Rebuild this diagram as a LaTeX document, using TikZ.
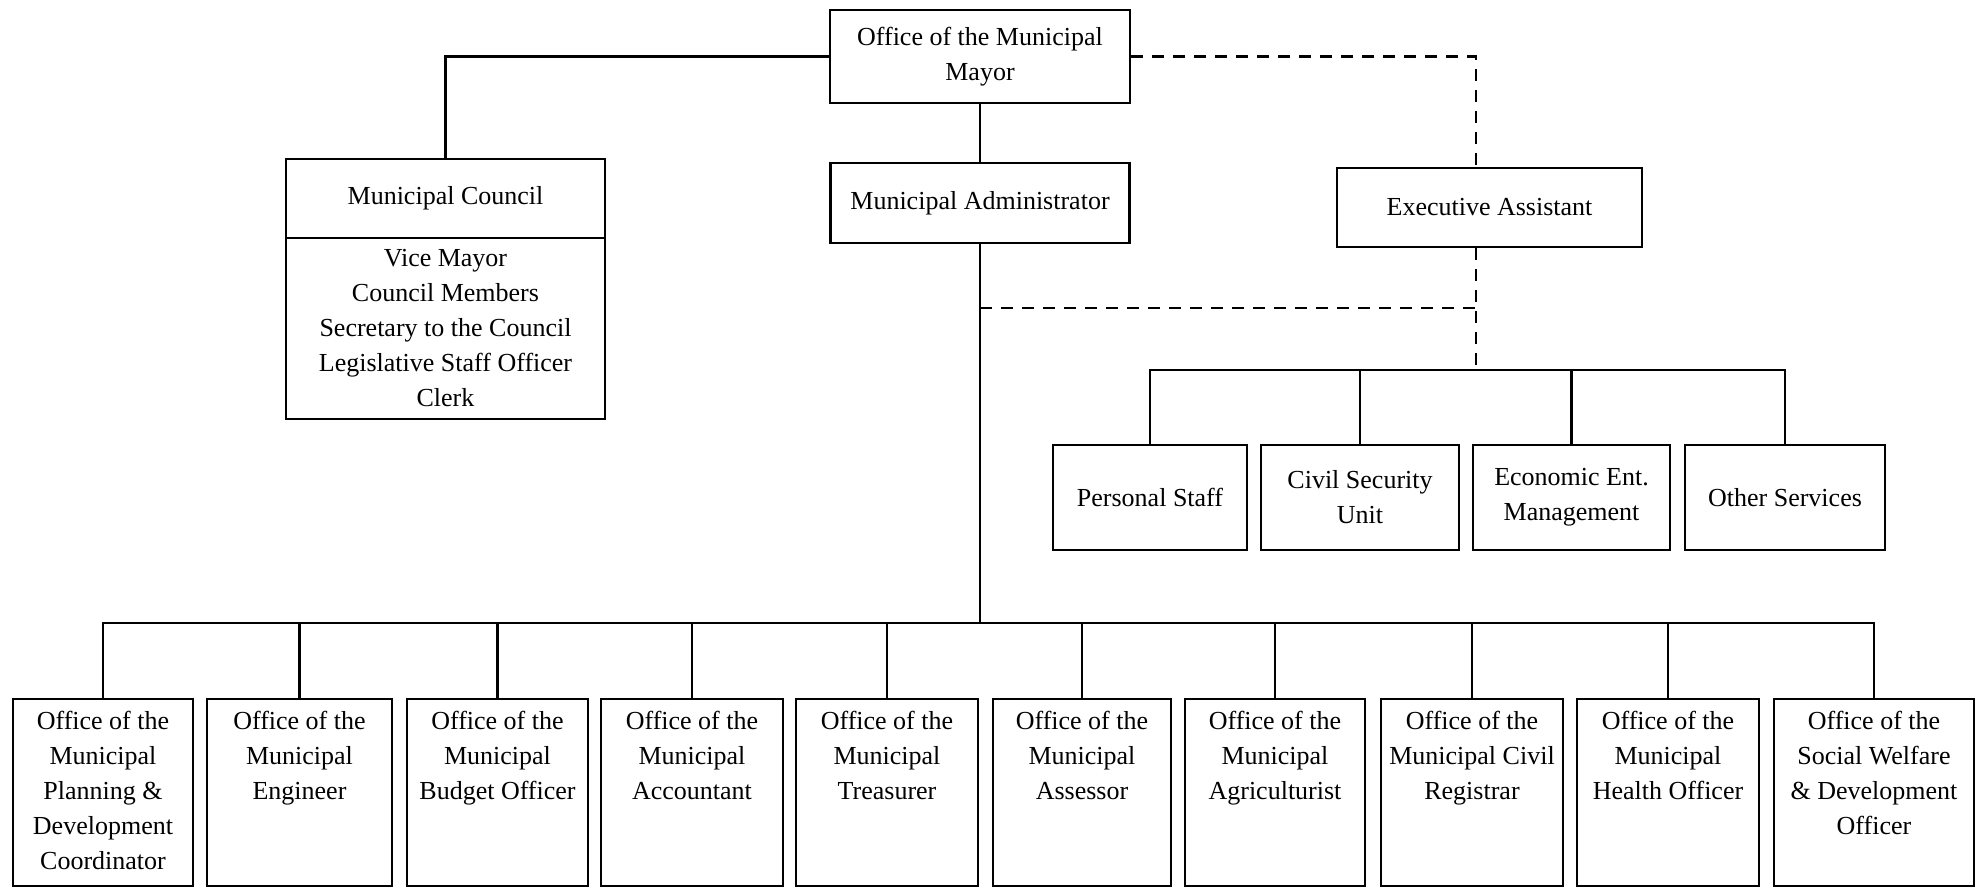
\documentclass[tikz,border=0pt]{standalone}
\usepackage{fontspec}
\setmainfont{Liberation Serif}
\begin{document}
\begin{tikzpicture}[x=1pt, y=-1pt,
  box/.style={draw, line width=2.6pt, inner sep=0pt, align=center,
    font=\fontsize{26}{35}\selectfont},
  office/.style={box, minimum width=#1, minimum height=187pt},
  lbl/.style={inner sep=0pt, align=center, font=\fontsize{26}{35}\selectfont},
  link/.style={line width=2.4pt},
  dlink/.style={line width=2.4pt, dash pattern=on 12pt off 9pt}]
\useasboundingbox (0,0) rectangle (1987,894);

% top of the chart
\node[box, minimum width=300pt, minimum height=93pt] (mayor) at (980,56.5)
  {Office of the Municipal\\Mayor};
\node[box, minimum width=299pt, minimum height=80pt] (admin) at (980,203)
  {Municipal Administrator};
\node[box, minimum width=319pt, minimum height=79pt] (ctop) at (445.5,198.5)
  {Municipal Council};
\node[box, minimum width=319pt, minimum height=181pt] (cbody) at (445.5,328.5)
  {Vice Mayor\\Council Members\\Secretary to the Council\\Legislative Staff Officer\\Clerk};
\node[box, minimum width=305pt, minimum height=79pt] (ea) at (1489.5,207.5)
  {Executive Assistant};

% units under the executive assistant
\node[box, minimum width=194pt, minimum height=105pt] (ps) at (1150,497.5) {Personal Staff};
\node[box, minimum width=198pt, minimum height=105pt] (cs) at (1360,497.5) {Civil Security\\Unit};
\node[box, minimum width=197pt, minimum height=105pt] (ee) at (1571.5,497.5) {Economic Ent.\\Management};
\node[box, minimum width=200pt, minimum height=105pt] (os) at (1785,497.5) {Other Services};

% municipal offices
\node[office=180pt] (b1) at (103,792.5) {};
\node[office=185pt] (b2) at (299.5,792.5) {};
\node[office=181pt] (b3) at (497.5,792.5) {};
\node[office=182pt] (b4) at (692,792.5) {};
\node[office=182pt] (b5) at (887,792.5) {};
\node[office=178pt] (b6) at (1082,792.5) {};
\node[office=180pt] (b7) at (1275,792.5) {};
\node[office=182pt] (b8) at (1472,792.5) {};
\node[office=182pt] (b9) at (1668,792.5) {};
\node[office=200pt] (b10) at (1874,792.5) {};

\node[lbl, anchor=north] (t1) at ([yshift=-13pt]b1.north) {Office of the\\Municipal\\Planning \&\\Development\\Coordinator};
\node[lbl, anchor=north] (t2) at ([yshift=-13pt]b2.north) {Office of the\\Municipal\\Engineer};
\node[lbl, anchor=north] (t3) at ([yshift=-13pt]b3.north) {Office of the\\Municipal\\Budget Officer};
\node[lbl, anchor=north] (t4) at ([yshift=-13pt]b4.north) {Office of the\\Municipal\\Accountant};
\node[lbl, anchor=north] (t5) at ([yshift=-13pt]b5.north) {Office of the\\Municipal\\Treasurer};
\node[lbl, anchor=north] (t6) at ([yshift=-13pt]b6.north) {Office of the\\Municipal\\Assessor};
\node[lbl, anchor=north] (t7) at ([yshift=-13pt]b7.north) {Office of the\\Municipal\\Agriculturist};
\node[lbl, anchor=north] (t8) at ([yshift=-13pt]b8.north) {Office of the\\Municipal Civil\\Registrar};
\node[lbl, anchor=north] (t9) at ([yshift=-13pt]b9.north) {Office of the\\Municipal\\Health Officer};
\node[lbl, anchor=north] (t10) at ([yshift=-13pt]b10.north) {Office of the\\Social Welfare\\\& Development\\Officer};

% junction points
\coordinate (busB) at (980,623);
\coordinate (busE) at (1476,370);
\coordinate (dj) at (980,308);

% solid lines of authority
\draw[link] (mayor.west) -| (ctop.north);
\draw[link] (mayor.south) -- (admin.north);
\draw[link] (admin.south) -- (busB);
\draw[link] (b1.north) |- (busB) -| (b10.north);
\foreach \b in {b2,b3,b4,b5,b6,b7,b8,b9}
  \draw[link] (\b.north) -- (\b.north |- busB);
\draw[link] (ps.north) |- (busE) -| (os.north);
\draw[link] (cs.north) -- (cs.north |- busE);
\draw[link] (ee.north) -- (ee.north |- busE);

% dashed lines
\draw[dlink] (mayor.east) -| (busE |- ea.north);
\draw[dlink] (busE |- ea.south) -- (busE);
\draw[dlink] (dj) -- (dj -| busE);
\end{tikzpicture}
\end{document}
